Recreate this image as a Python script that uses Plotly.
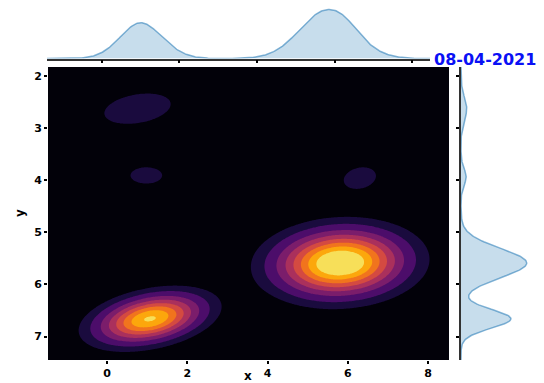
import numpy as np
import plotly.graph_objects as go

# ---- data: KDE mixture components ----
comp_x = [1.07, 5.81, 0.76, 0.98, 6.30]
comp_y = [6.66, 5.59, 2.63, 3.91, 3.96]
comp_sx = [0.81, 0.98, 0.74, 0.38, 0.39]
comp_sy = [0.29, 0.39, 0.26, 0.15, 0.20]
comp_rho = [-0.35, -0.08, -0.30, 0.0, -0.20]
comp_w = [1.0, 2.05, 0.14, 0.04, 0.053]
# marginal (1-D KDE) widths
marg_sx = [0.56, 0.70, 0.45, 0.30, 0.30]
marg_sy = [0.18, 0.28, 0.22, 0.16, 0.16]
# inferno positions of the filled bands (background + 8 levels)
band_cvals = [0.01, 0.11, 0.226, 0.341, 0.457, 0.573, 0.689, 0.804, 0.92]

x_ticks = [0, 2, 4, 6, 8]
y_ticks = [2, 3, 4, 5, 6, 7]
x_range = [-1.47, 8.52]
y_range = [7.45, 1.83]
top_x_range = [-1.41, 8.46]
date_label = "08-04-2021"

W, H = 544, 383

# ---- density grid ----
gx = np.linspace(x_range[0], x_range[1], 320)
gy = np.linspace(min(y_range), max(y_range), 240)
X, Y = np.meshgrid(gx, gy)
D = np.zeros_like(X)
for mx, my, sx, sy, r, w in zip(comp_x, comp_y, comp_sx, comp_sy, comp_rho, comp_w):
    dx = (X - mx) / sx
    dy = (Y - my) / sy
    q = (dx * dx - 2 * r * dx * dy + dy * dy) / (1 - r * r)
    D += w * np.exp(-0.5 * q) / (2 * np.pi * sx * sy * np.sqrt(1 - r * r))

# iso-proportion levels (seaborn style)
isoprop = np.linspace(0, 1, 10)
vals = np.sort(D.ravel())[::-1]
cum = np.cumsum(vals) / vals.sum()
idx = np.searchsorted(cum, 1 - isoprop)
levels = np.take(vals, idx, mode="clip")
levels = np.maximum.accumulate(levels + np.arange(10) * 1e-12)
Z = np.interp(D, levels, np.arange(10))

# inferno colormap anchors
inf_anchor = ["#000004", "#160b39", "#420a68", "#6a176e", "#932667", "#bc3754",
              "#dd513a", "#f37819", "#fca50a", "#f6d746", "#fcffa4"]
inf_rgb = np.array([[int(c[i:i + 2], 16) for i in (1, 3, 5)] for c in inf_anchor], float)


def inferno(v):
    v = min(max(v, 0.0), 1.0)
    pos = np.linspace(0, 1, len(inf_anchor))
    rgb = [np.interp(v, pos, inf_rgb[:, k]) for k in range(3)]
    return "rgb(%d,%d,%d)" % tuple(int(round(c)) for c in rgb)


band_colors = [inferno(v) for v in band_cvals]
n = len(band_colors)  # 9
colorscale = []
for k, c in enumerate(band_colors):
    lo = max(0.0, (k - 0.5) / (n - 1))
    hi = min(1.0, (k + 0.5) / (n - 1))
    colorscale.append([lo, c])
    colorscale.append([hi, c])

# marginals
mxg = np.linspace(top_x_range[0], top_x_range[1], 400)
fx = np.zeros_like(mxg)
for mx, s, w in zip(comp_x, marg_sx, comp_w):
    fx += w * np.exp(-0.5 * ((mxg - mx) / s) ** 2) / (s * np.sqrt(2 * np.pi))
myg = np.linspace(min(y_range), max(y_range), 400)
fy = np.zeros_like(myg)
for my, s, w in zip(comp_y, marg_sy, comp_w):
    fy += w * np.exp(-0.5 * ((myg - my) / s) ** 2) / (s * np.sqrt(2 * np.pi))

line_col = "rgba(31,119,180,0.55)"
fill_col = "rgba(31,119,180,0.25)"

fig = go.Figure()
fig.add_trace(go.Contour(
    x=gx, y=gy, z=Z, colorscale=colorscale, showscale=False,
    autocontour=False, contours=dict(start=1, end=8, size=1, coloring="fill", showlines=False),
    line=dict(width=0, smoothing=0.8), hoverinfo="skip", xaxis="x", yaxis="y"))
fig.add_trace(go.Scatter(x=mxg, y=fx, mode="lines", fill="tozeroy", fillcolor=fill_col,
                         line=dict(color=line_col, width=1.5), xaxis="x2", yaxis="y2",
                         showlegend=False, hoverinfo="skip"))
fig.add_trace(go.Scatter(x=fy, y=myg, mode="lines", fill="tozerox", fillcolor=fill_col,
                         line=dict(color=line_col, width=1.5), xaxis="x3", yaxis="y3",
                         showlegend=False, hoverinfo="skip"))


def px_x(p):
    return p / W


def px_y(p):
    return 1 - p / H


tickfont = dict(family="DejaVu Sans", size=11, color="black", weight="bold")
main_dom_y = [px_y(360), px_y(67)]

fig.update_layout(
    width=W, height=H, margin=dict(l=0, r=0, t=0, b=0),
    paper_bgcolor="white", plot_bgcolor="white", showlegend=False,
    xaxis=dict(domain=[px_x(48), px_x(449)], range=x_range, tickvals=x_ticks,
               ticks="outside", ticklen=3, tickwidth=1.5, tickcolor="black",
               showgrid=False, zeroline=False, showline=False, tickfont=tickfont,
               anchor="y"),
    yaxis=dict(domain=main_dom_y, range=y_range, tickvals=y_ticks,
               ticks="outside", ticklen=3, tickwidth=1.5, tickcolor="black",
               showgrid=False, zeroline=False, showline=False, tickfont=tickfont,
               anchor="x"),
    xaxis2=dict(domain=[px_x(47), px_x(430)], range=top_x_range, tickvals=x_ticks,
                ticks="outside", ticklen=3, tickwidth=2, tickcolor="black",
                showticklabels=False, showgrid=False, zeroline=False,
                showline=True, linecolor="#333", linewidth=1.5, anchor="y2"),
    yaxis2=dict(domain=[px_y(58.5), px_y(7)], range=[0, fx.max() * 1.05],
                visible=False, anchor="x2"),
    xaxis3=dict(domain=[px_x(461), px_x(530)], range=[0, fy.max() * 1.05],
                visible=False, anchor="y3"),
    yaxis3=dict(domain=main_dom_y, range=y_range, tickvals=y_ticks,
                ticks="outside", ticklen=3, tickwidth=2, tickcolor="black",
                showticklabels=False, showgrid=False, zeroline=False,
                showline=True, linecolor="#333", linewidth=1.5, anchor="x3", side="left"),
    annotations=[
        dict(text="x", x=px_x(248), y=px_y(376), xref="paper", yref="paper",
             xanchor="center", yanchor="middle",
             showarrow=False, font=dict(family="DejaVu Sans", size=12, color="black", weight="bold")),
        dict(text="y", x=px_x(20), y=px_y(213), xref="paper", yref="paper", textangle=-90,
             xanchor="center", yanchor="middle",
             showarrow=False, font=dict(family="DejaVu Sans", size=12, color="black", weight="bold")),
        dict(text=date_label, x=px_x(432), y=px_y(59), xref="paper", yref="paper",
             xanchor="left", yanchor="middle", showarrow=False,
             font=dict(family="DejaVu Sans", size=16, color="#0a10f5", weight="bold")),
    ],
)

fig.write_html("out.html")
